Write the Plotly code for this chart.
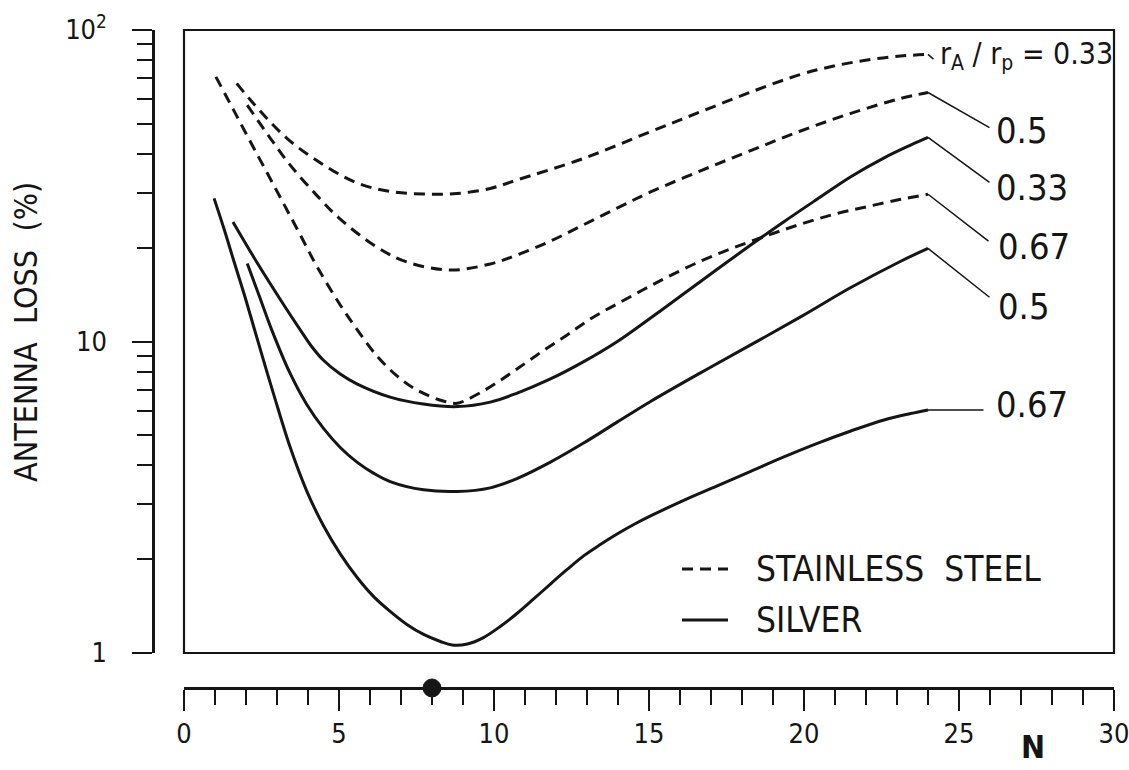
import math
import plotly.graph_objects as go

# ---------------- data ----------------
# Stainless steel (dashed) curves, r_A/r_p = 0.33, 0.5, 0.67
N_ss_033 = [1.70, 2.24, 3.32, 4.50, 5.58, 6.65, 7.73, 8.80, 9.88, 10.74, 12.89, 15.05, 16.66, 18.28, 19.89, 20.96, 22.04, 23.12, 24.0]
L_ss_033 = [67.4, 58.1, 44.9, 36.9, 32.3, 30.3, 29.75, 29.86, 31.0, 33.0, 38.7, 47.2, 54.6, 63.2, 72.0, 76.6, 80.1, 82.5, 83.5]

N_ss_05 = [2.04, 2.78, 3.42, 4.29, 5.04, 6.22, 7.19, 8.59, 9.88, 10.74, 11.82, 12.89, 13.97, 15.05, 16.66, 18.28, 19.89, 21.51, 23.12, 24.0]
L_ss_05 = [57.4, 45.0, 36.9, 29.4, 24.7, 20.1, 18.0, 16.96, 17.74, 18.95, 21.0, 23.7, 26.8, 30.2, 35.3, 41.0, 47.4, 54.0, 60.3, 63.0]

N_ss_067 = [1.03, 1.58, 2.13, 2.68, 3.23, 3.75, 4.29, 5.04, 5.59, 6.23, 6.88, 7.52, 8.36, 8.81, 9.13, 9.66, 10.20, 10.74, 11.55, 12.36, 13.16, 13.97, 14.78, 15.59, 16.66, 17.73, 18.82, 19.89, 20.96, 22.04, 23.12, 24.0]
L_ss_067 = [70.7, 55.8, 44.0, 34.8, 27.5, 22.0, 17.4, 13.1, 10.9, 8.97, 7.74, 6.98, 6.44, 6.33, 6.51, 6.94, 7.50, 8.16, 9.29, 10.5, 11.9, 13.2, 14.6, 16.1, 18.1, 20.0, 21.9, 23.8, 25.6, 27.1, 28.6, 29.7]

# Silver (solid) curves
N_ag_033 = [1.58, 2.36, 3.20, 3.75, 4.13, 4.49, 5.04, 5.59, 6.65, 7.72, 8.82, 9.88, 10.75, 11.82, 12.88, 13.98, 15.05, 16.11, 17.21, 18.28, 19.34, 20.44, 21.51, 22.57, 23.44, 24.0]
L_ag_033 = [24.2, 17.9, 13.2, 10.9, 9.60, 8.72, 7.86, 7.30, 6.63, 6.30, 6.18, 6.39, 6.83, 7.58, 8.60, 10.0, 11.9, 14.2, 17.1, 20.4, 24.2, 28.7, 33.8, 38.8, 42.7, 45.2]

N_ag_05 = [2.04, 2.44, 2.83, 3.42, 3.96, 4.50, 5.04, 5.58, 6.11, 6.65, 7.73, 8.81, 9.88, 10.74, 11.82, 12.89, 13.97, 15.05, 16.66, 18.28, 19.89, 21.51, 23.12, 24.0]
L_ag_05 = [17.8, 13.9, 10.9, 7.91, 6.28, 5.26, 4.57, 4.10, 3.78, 3.55, 3.34, 3.30, 3.39, 3.63, 4.10, 4.72, 5.51, 6.42, 7.93, 9.75, 12.0, 14.9, 18.1, 19.9]

N_ag_067 = [0.97, 1.29, 1.61, 1.94, 2.26, 2.58, 2.91, 3.42, 3.96, 4.50, 5.04, 5.58, 6.11, 6.65, 7.19, 7.73, 8.27, 8.65, 9.14, 9.66, 10.20, 10.74, 11.28, 11.82, 12.36, 12.89, 13.43, 13.97, 14.51, 15.05, 16.12, 17.20, 18.28, 19.35, 20.43, 21.51, 22.58, 23.44, 24.0]
L_ag_067 = [28.8, 23.0, 18.1, 14.2, 11.05, 8.60, 6.68, 4.59, 3.31, 2.56, 2.08, 1.75, 1.52, 1.36, 1.235, 1.147, 1.089, 1.061, 1.069, 1.121, 1.216, 1.339, 1.491, 1.665, 1.854, 2.05, 2.23, 2.41, 2.585, 2.754, 3.09, 3.44, 3.83, 4.26, 4.71, 5.16, 5.60, 5.87, 6.03]

curve_labels = ["r<sub>A</sub> / r<sub>p</sub> = 0.33", "0.5", "0.33", "0.67", "0.5", "0.67"]
materials = ["STAINLESS  STEEL", "SILVER"]

x_tickvals = [0, 5, 10, 15, 20, 25, 30]
x_minor = [1, 2, 3, 4, 6, 7, 8, 9, 11, 12, 13, 14, 16, 17, 18, 19, 21, 22, 23, 24, 26, 27, 28, 29]
y_tickvals = [1, 10, 100]
y_ticktext = ["1", "10", "10<sup>2</sup>"]
y_minor = [2, 3, 4, 5, 6, 7, 8, 9, 20, 30, 40, 50, 60, 70, 80, 90]
marked_N = [8]

# ---------------- styling / layout ----------------
INK = "#151515"
FONT = "Noto Sans ExtraCondensed, Noto Sans Condensed, Liberation Sans Narrow, DejaVu Sans Condensed, sans-serif"
DASH = "11px,7px"

# (x, y, dash, name, leader offset (ax, ay) in px, label shift (xs, ys) in px, label size)
series = [
    (N_ss_033, L_ss_033, DASH, "Stainless steel, rA/rp = 0.33", (7, 6), (10, -1), 30),
    (N_ss_05, L_ss_05, DASH, "Stainless steel, rA/rp = 0.5", (63, 36), (66, -38), 36),
    (N_ag_033, L_ag_033, "solid", "Silver, rA/rp = 0.33", (63, 46), (66, -50), 36),
    (N_ss_067, L_ss_067, DASH, "Stainless steel, rA/rp = 0.67", (62, 48), (68, -52), 36),
    (N_ag_05, L_ag_05, "solid", "Silver, rA/rp = 0.5", (63, 50), (68, -58), 36),
    (N_ag_067, L_ag_067, "solid", "Silver, rA/rp = 0.67", (57, 0), (66, 5), 36),
]

W, H = 1129, 770
ML, MR, MT, MB = 153, 15, 30, 82
PW = W - ML - MR
PH = H - MT - MB
box_left = 184
box_bottom = 653


def px(xpix):
    return (xpix - ML) / PW


def py(ypix):
    return (H - MB - ypix) / PH


fig = go.Figure()
shapes = []
annotations = []

for (xs, ys, dash, name, (ax, ay), (tx, ty), fs), lab in zip(series, curve_labels):
    fig.add_trace(go.Scatter(
        x=xs, y=ys, mode="lines", name=name, showlegend=False,
        line=dict(color=INK, width=3, dash=dash, shape="spline", smoothing=1.0),
        hoverinfo="skip",
    ))
    # leader line from the curve end towards its label
    annotations.append(dict(
        x=xs[-1], y=math.log10(ys[-1]), xref="x", yref="y", text="",
        showarrow=True, arrowhead=0, arrowwidth=1.5, arrowcolor=INK,
        ax=ax, ay=ay, axref="pixel", ayref="pixel", standoff=0, startstandoff=0,
    ))
    annotations.append(dict(
        x=xs[-1], y=math.log10(ys[-1]), xref="x", yref="y", text=lab,
        showarrow=False, xanchor="left", yanchor="middle", xshift=tx, yshift=ty,
        font=dict(family=FONT, size=fs, color=INK),
    ))

# plot frame
shapes.append(dict(type="rect", xref="x domain", yref="y domain", x0=0, x1=1, y0=0, y1=1,
                   line=dict(color=INK, width=2.2)))

# marker dot on the N axis
for n in marked_N:
    shapes.append(dict(type="circle", xref="x", yref="paper", xsizemode="pixel", ysizemode="pixel",
                       xanchor=n, yanchor=0, x0=-9, x1=9, y0=-9, y1=9,
                       fillcolor=INK, line=dict(color=INK, width=1)))

# key for the two materials
for i, (mat, dash) in enumerate(zip(materials, [DASH, "solid"])):
    yy = py(569 + 51 * i)
    shapes.append(dict(type="line", xref="paper", yref="paper", x0=px(682), x1=px(728), y0=yy, y1=yy,
                       line=dict(color=INK, width=3, dash=dash)))
    annotations.append(dict(x=px(754), y=yy, xref="paper", yref="paper", text=mat, showarrow=False,
                            xanchor="left", yanchor="middle",
                            font=dict(family=FONT, size=35, color=INK)))

# axis titles
annotations.append(dict(x=px(26), y=py(332), xref="paper", yref="paper", text="ANTENNA  LOSS  (%)",
                        textangle=-90, showarrow=False, xanchor="center", yanchor="middle",
                        font=dict(family=FONT, size=32, color=INK)))
annotations.append(dict(x=px(1033), y=py(747), xref="paper", yref="paper", text="<b>N</b>",
                        showarrow=False, xanchor="center", yanchor="middle",
                        font=dict(family=FONT, size=32, color=INK)))

fig.update_layout(
    width=W, height=H, autosize=False,
    margin=dict(l=ML, r=MR, t=MT, b=MB, pad=0, autoexpand=False),
    paper_bgcolor="white", plot_bgcolor="white",
    showlegend=False,
    shapes=shapes, annotations=annotations,
    font=dict(family=FONT, color=INK),
    xaxis=dict(
        domain=[px(box_left), 1.0], range=[0, 30], anchor="free", position=0,
        showgrid=False, zeroline=False, showline=True, linecolor=INK, linewidth=2.5,
        tickmode="array", tickvals=x_tickvals, ticks="outside", ticklen=21, tickwidth=2.2,
        tickcolor=INK, tickfont=dict(family=FONT, size=27, color=INK), ticklabelstandoff=0,
        ticklabeloverflow="allow", automargin=False,
        minor=dict(tickmode="array", tickvals=x_minor, ticks="outside", ticklen=15,
                   tickwidth=2.2, tickcolor=INK, showgrid=False),
    ),
    yaxis=dict(
        type="log", domain=[py(box_bottom), 1.0], range=[0, 2], anchor="free", position=0,
        showgrid=False, zeroline=False, showline=True, linecolor=INK, linewidth=2.5,
        tickmode="array", tickvals=y_tickvals, ticktext=y_ticktext, ticks="outside",
        ticklen=20, tickwidth=2.2, tickcolor=INK, ticklabeloverflow="allow", automargin=False,
        tickfont=dict(family=FONT, size=27, color=INK), ticklabelstandoff=20,
        minor=dict(tickmode="array", tickvals=y_minor, ticks="outside", ticklen=15,
                   tickwidth=2.2, tickcolor=INK, showgrid=False),
    ),
)

fig.write_html(
    "out.html",
    config={"displayModeBar": False, "responsive": False},
    post_script="document.body.style.margin='0px';document.body.style.overflow='hidden';",
)
